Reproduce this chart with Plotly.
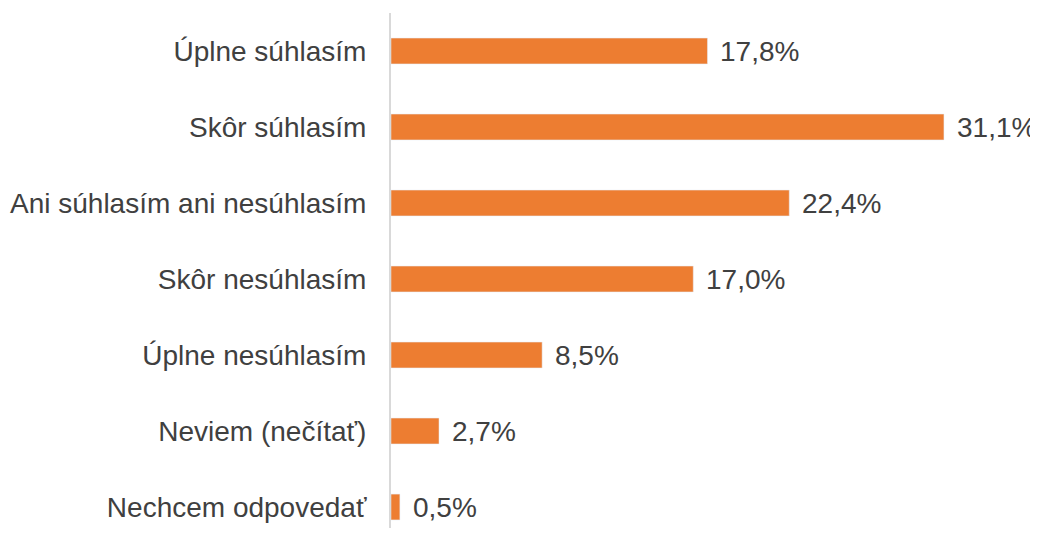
import plotly.graph_objects as go

categories = [
    'Úplne súhlasím',
    'Skôr súhlasím',
    'Ani súhlasím ani nesúhlasím',
    'Skôr nesúhlasím',
    'Úplne nesúhlasím',
    'Neviem (nečítať)',
    'Nechcem odpovedať',
]
values = [17.8, 31.1, 22.4, 17.0, 8.5, 2.7, 0.5]
labels = [f'{v:.1f}%'.replace('.', ',') for v in values]

FONT = 'Liberation Sans, Arial, sans-serif'
TEXT_COLOR = '#404040'

fig = go.Figure()

fig.add_trace(go.Bar(
    x=values,
    y=categories,
    orientation='h',
    marker_color='#ED7D31',
    width=0.34,
    hoverinfo='skip',
))

for cat, v, lab in zip(categories, values, labels):
    fig.add_annotation(
        x=v, y=cat, text=lab, showarrow=False,
        xanchor='left', yanchor='middle', xshift=11,
        font=dict(size=28, family=FONT, color=TEXT_COLOR),
    )

# page body has an 8px margin, so the figure is sized/offset to fit the window
fig.update_layout(
    width=1030,
    height=520,
    plot_bgcolor='white',
    paper_bgcolor='white',
    showlegend=False,
    margin=dict(l=383, r=8, t=5, b=0),
    xaxis=dict(
        range=[0, 35.94],
        visible=False,
        automargin=False,
    ),
    yaxis=dict(
        categoryorder='array',
        categoryarray=categories,
        range=[6.276, -0.5],
        automargin=False,
        showline=True,
        linecolor='#D9D9D9',
        linewidth=2,
        ticks='',
        showgrid=False,
        ticklabelstandoff=17,
        tickfont=dict(size=28, family=FONT, color=TEXT_COLOR),
    ),
)

fig.write_html('out.html')
